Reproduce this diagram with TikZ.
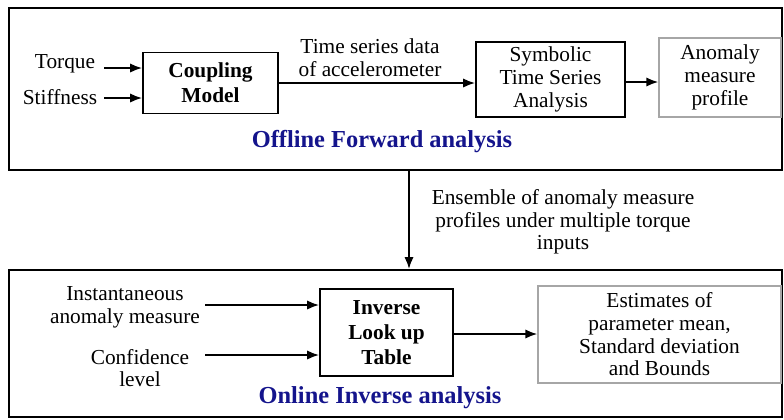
\documentclass[tikz,border=0pt]{standalone}
\usepackage{fontspec}
\setmainfont{Liberation Serif}
\usetikzlibrary{arrows.meta}
\definecolor{headblue}{HTML}{14148C}
\begin{document}
\begin{tikzpicture}[x=0.75pt,y=-0.75pt,
  every node/.style={font=\fontsize{16}{17}\selectfont, inner sep=0pt},
  outer/.style={draw, line width=2.2pt},
  blk/.style={draw, line width=1.4pt, align=center},
  gblk/.style={draw=gray!70, line width=1.1pt, align=center},
  lbl/.style={align=center},
  head/.style={text=headblue, font=\fontsize{18.3}{20}\selectfont\bfseries},
  arr/.style={line width=1.3pt, -{Latex[length=9pt,width=7pt]}}]
\useasboundingbox (0,0) rectangle (784,419);
% outer boxes
\draw[outer] (9,8) rectangle (782,170);
\draw[outer] (9,270) rectangle (782,417);
% top row
\node[lbl] (torque) at (65,64) {Torque};
\node[lbl] (stiff) at (60,97) {Stiffness};
\node[blk, minimum width=135*0.75pt, minimum height=61*0.75pt] (coup) at (210.5,83) {};
\node[font=\fontsize{16}{19}\selectfont\bfseries, align=center] at (coup) {Coupling\\Model};
\coordinate (tq) at (104,68);
\coordinate (st) at (104,98);
\draw[arr] (tq) -- (tq -| coup.west);
\draw[arr] (st) -- (st -| coup.west);
\node[blk, minimum width=149*0.75pt, minimum height=75*0.75pt] (sym) at (550.5,79.5) {Symbolic\\Time Series\\Analysis};
\node[lbl] (ts) at (370,58) {Time series data\\of accelerometer};
\draw[arr] (coup.east |- 0,83) -- (sym.west |- 0,83);
\node[gblk, minimum width=122*0.75pt, minimum height=79*0.75pt] (anom) at (720,77.5) {Anomaly\\measure\\profile};
\draw[arr] (sym.east |- 0,82) -- (anom.west |- 0,82);
\node[head] (off) at (382,142) {Offline Forward analysis};
% vertical arrow
\coordinate (vtop) at (409,171);
\coordinate (vbot) at (409,269);
\draw[arr] (vtop) -- (vbot);
\node[lbl] (ens) at (563,222) {Ensemble of anomaly measure\\profiles under multiple torque\\inputs};
% bottom row
\node[lbl] (inst) at (125,307) {Instantaneous\\anomaly measure};
\node[lbl] (conf) at (140,368) {Confidence\\level};
\node[blk, minimum width=133*0.75pt, minimum height=87*0.75pt] (inv) at (386.5,332.5) {};
\node[font=\fontsize{16}{19}\selectfont\bfseries, align=center] at (inv) {Inverse\\Look up\\Table};
\coordinate (ia) at (205,305);
\coordinate (ca) at (205,355);
\draw[arr] (ia) -- (ia -| inv.west);
\draw[arr] (ca) -- (ca -| inv.west);
\node[gblk, minimum width=243*0.75pt, minimum height=97*0.75pt] (est) at (659.5,334.5) {Estimates of\\parameter mean,\\Standard deviation\\and Bounds};
\draw[arr] (inv.east |- 0,334) -- (est.west |- 0,334);
\node[head] (onl) at (380,398) {Online Inverse analysis};
\end{tikzpicture}
\end{document}
